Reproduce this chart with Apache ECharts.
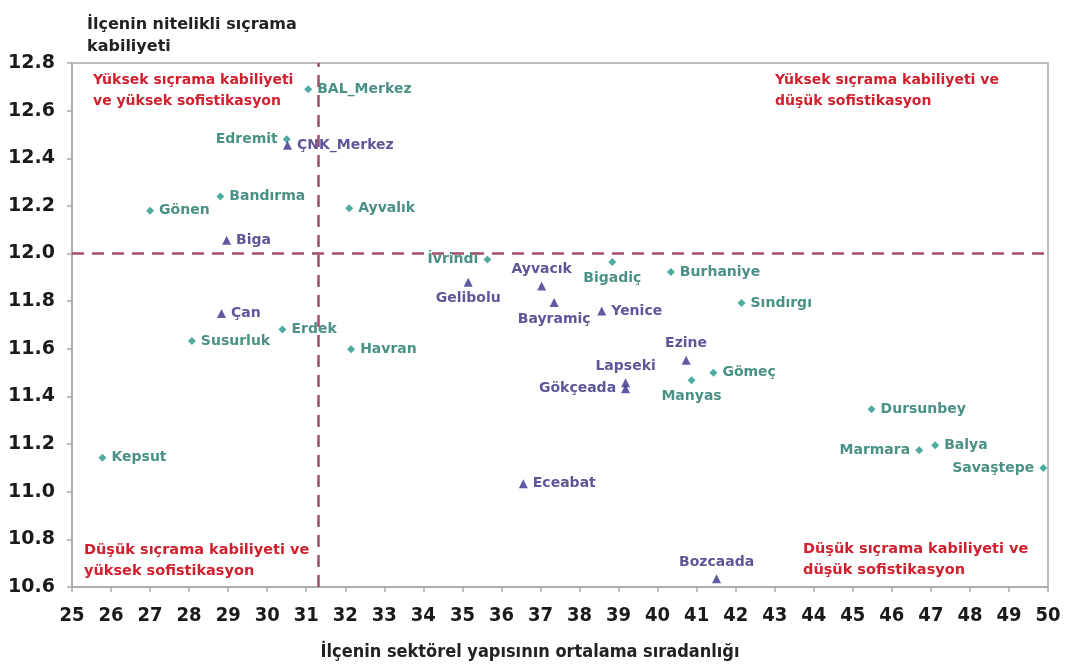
<!DOCTYPE html>
<html>
<head>
<meta charset="utf-8">
<script src="https://cdn.jsdelivr.net/npm/echarts@6/dist/echarts.min.js"></script>
<style>
html,body{margin:0;padding:0;background:#fff;}
#chart{width:1065px;height:671px;}
</style>
</head>
<body>
<div id="chart"></div>
<script>
// ---- Data ----
const balikesirNames = ['BAL_Merkez','Edremit','Gönen','Bandırma','Ayvalık','İvrindi','Bigadiç','Burhaniye','Sındırgı','Susurluk','Erdek','Havran','Gömeç','Manyas','Dursunbey','Marmara','Balya','Savaştepe','Kepsut'];
const balikesirX = [31.05, 30.5, 27.0, 28.8, 32.1, 35.64, 38.84, 40.34, 42.15, 28.07, 30.39, 32.15, 41.43, 40.87, 45.48, 46.70, 47.11, 49.88, 25.78];
const balikesirY = [12.69, 12.48, 12.18, 12.24, 12.19, 11.975, 11.965, 11.923, 11.792, 11.633, 11.681, 11.598, 11.50, 11.468, 11.346, 11.174, 11.195, 11.10, 11.143];

const canakkaleNames = ['ÇNK_Merkez','Biga','Gelibolu','Ayvacık','Bayramiç','Yenice','Çan','Ezine','Lapseki','Gökçeada','Eceabat','Bozcaada'];
const canakkaleX = [30.52, 28.96, 35.15, 37.03, 37.35, 38.57, 28.83, 40.73, 39.18, 39.18, 36.56, 41.51];
const canakkaleY = [12.455, 12.056, 11.88, 11.864, 11.794, 11.759, 11.748, 11.552, 11.458, 11.432, 11.034, 10.635];

const xTicks = {min: 25, max: 50, interval: 1};
const yTicks = {min: 10.6, max: 12.8, interval: 0.2};
const thresholdX = 31.3;
const thresholdY = 12.0;

const yAxisTitle = 'İlçenin nitelikli sıçrama\nkabiliyeti';
const xAxisTitle = 'İlçenin sektörel yapısının ortalama sıradanlığı';
const quadrantTexts = [
  'Yüksek sıçrama kabiliyeti\nve yüksek sofistikasyon',
  'Yüksek sıçrama kabiliyeti ve\ndüşük sofistikasyon',
  'Düşük sıçrama kabiliyeti ve\nyüksek sofistikasyon',
  'Düşük sıçrama kabiliyeti ve\ndüşük sofistikasyon'
];

// ---- Label placement (style) ----
const labelPlacement = {
  'Edremit':'left','İvrindi':'left','Gökçeada':'left','Marmara':'left','Savaştepe':'left',
  'Gelibolu':'bottom','Bigadiç':'bottom','Bayramiç':'bottom','Manyas':'bottom',
  'Ayvacık':'top','Ezine':'top','Lapseki':'top','Bozcaada':'top'
};

const TEAL = '#22968a';
const TEAL_TXT = '#1c7566';
const PURPLE = '#3a318c';
const PURPLE_TXT = '#352c7e';
const RED = '#d01f2d';
const DASH = '#a04e6e';
const labelFont = {fontFamily:'"DejaVu Sans", Verdana, sans-serif', fontWeight:'bold', fontSize:14};

function build(names, xs, ys) {
  return names.map((n, i) => ({
    name: n,
    value: [xs[i], ys[i]],
    label: {position: labelPlacement[n] || 'right', distance: 5}
  }));
}

const chart = echarts.init(document.getElementById('chart'), null, {renderer:'canvas'});
const quadTop = {fill: RED, fontFamily:'"DejaVu Sans", Verdana, sans-serif', fontWeight:'bold', fontSize:14, lineHeight:21};
const quadBottom = {fill: RED, fontFamily:'"DejaVu Sans", Verdana, sans-serif', fontWeight:'bold', fontSize:14.5, lineHeight:21};
chart.setOption({
  animation: false,
  backgroundColor: '#fff',
  title: {
    text: yAxisTitle,
    left: 82, top: 9,
    textStyle: {fontFamily:'"DejaVu Sans", Verdana, sans-serif', fontWeight:'bold', fontSize:16, lineHeight:22, color:'#222'}
  },
  grid: {left: 72, right: 17, top: 63, bottom: 84, show: true, borderColor: '#a8a8a8', borderWidth: 1.5},
  xAxis: {
    type: 'value', min: xTicks.min, max: xTicks.max, interval: xTicks.interval,
    name: xAxisTitle, nameLocation: 'middle', nameGap: 56,
    nameTextStyle: {fontFamily:'"DejaVu Sans Condensed", "DejaVu Sans", sans-serif', fontWeight:'bold', fontSize:18, color:'#222', padding:[0, 60, 0, 0]},
    axisLine: {lineStyle: {color:'#a8a8a8', width:1.5}},
    axisTick: {show: true, inside: false, length: 5, lineStyle:{color:'#a8a8a8', width:1.5}},
    axisLabel: {margin: 19, fontFamily:'"DejaVu Sans Condensed", "DejaVu Sans", sans-serif', fontWeight:'bold', fontSize:20, color:'#1a1a1a'},
    splitLine: {show: false}
  },
  yAxis: {
    type: 'value', min: yTicks.min, max: yTicks.max, interval: yTicks.interval,
    axisLine: {show: true, lineStyle: {color:'#a8a8a8', width:1.5}},
    axisTick: {show: true, inside: false, length: 5, lineStyle:{color:'#a8a8a8', width:1.5}},
    axisLabel: {margin: 17, formatter: v => v.toFixed(1), fontFamily:'"DejaVu Sans", sans-serif', fontWeight:'bold', fontSize:19, color:'#1a1a1a'},
    splitLine: {show: false}
  },
  graphic: [
    {type:'text', left: 93, top: 70, style: Object.assign({text: quadrantTexts[0]}, quadTop)},
    {type:'text', left: 775, top: 70, style: Object.assign({text: quadrantTexts[1]}, quadTop)},
    {type:'text', left: 84, top: 540, style: Object.assign({text: quadrantTexts[2]}, quadBottom)},
    {type:'text', left: 803, top: 539, style: Object.assign({text: quadrantTexts[3]}, quadBottom)}
  ],
  series: [
    {
      name: 'Balıkesir', type: 'scatter', symbol: 'diamond', symbolSize: 8,
      itemStyle: {color: TEAL},
      label: Object.assign({show: true, formatter: '{b}', color: TEAL_TXT}, labelFont),
      data: build(balikesirNames, balikesirX, balikesirY),
      markLine: {
        silent: true, symbol: 'none', label: {show: false},
        lineStyle: {color: DASH, type: [12, 8], width: 2.5},
        data: [{xAxis: thresholdX}, {yAxis: thresholdY}]
      },
      z: 3
    },
    {
      name: 'Çanakkale', type: 'scatter', symbol: 'triangle', symbolSize: 9,
      itemStyle: {color: PURPLE},
      label: Object.assign({show: true, formatter: '{b}', color: PURPLE_TXT}, labelFont),
      data: build(canakkaleNames, canakkaleX, canakkaleY),
      z: 4
    }
  ]
});
</script>
</body>
</html>
